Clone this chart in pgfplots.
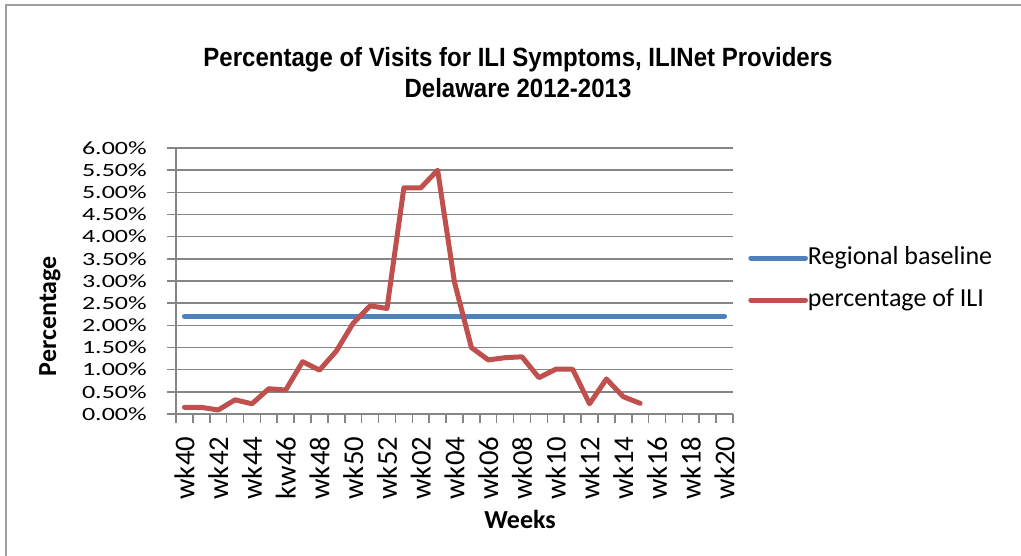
\documentclass[border=0pt]{standalone}
\usepackage{fontspec}
\setmainfont{Carlito}
\newfontfamily\titlefont{Liberation Sans}
\usepackage{graphicx}
\usepackage{pgfplots}
\pgfplotsset{compat=1.18}
\definecolor{ilired}{HTML}{C0504D}
\definecolor{baseblue}{HTML}{4F81BD}
\definecolor{gridgray}{HTML}{868686}
\begin{document}
\begin{tikzpicture}
\path[use as bounding box] (0pt,0pt) rectangle (765.75pt,417pt);
\draw[gridgray!80, line width=1.5] (4.5pt,0pt) -- (4.5pt,413.25pt) -- (765.75pt,413.25pt);
\node[font={\titlefont\bfseries\fontsize{18}{21}\selectfont}] at (388.5pt,372pt) {\scalebox{1}[1.1]{Percentage of Visits for ILI Symptoms, ILINet Providers}};
\node[font={\titlefont\bfseries\fontsize{18}{21}\selectfont}] at (388.5pt,351pt) {\scalebox{1}[1.1]{Delaware 2012-2013}};
\begin{axis}[
  at={(132pt,106.5pt)}, anchor=south west,
  scale only axis, width=417.75pt, height=199.5pt,
  xmin=-0.5, xmax=32.5, ymin=0, ymax=6,
  axis x line*=bottom, axis y line*=left,
  axis line style={gridgray, line width=1.2pt, -},
  font=\fontsize{19.5}{23.4}\selectfont,
  /pgf/number format/assume math mode=true,
  ytick={0,0.5,...,6},
  yticklabel={\scalebox{1}[0.72]{\pgfmathprintnumber[fixed,fixed zerofill,precision=2]{\tick}\%}},
  yticklabel style={anchor=east, inner sep=0pt, xshift=-15pt},
  ymajorgrids, grid style={gridgray, line width=1.2pt},
  xtick={0,2,...,32},
  xticklabels={wk40,wk42,wk44,kw46,wk48,wk50,wk52,wk02,wk04,wk06,wk08,wk10,wk12,wk14,wk16,wk18,wk20},
  xticklabel style={rotate=90, anchor=east, inner sep=0pt, xshift=-10.25pt, font=\fontsize{21.5}{25}\selectfont},
  minor xtick={-0.5,0.5,...,32.5},
  tick align=outside,
  major tick length=6.75pt, minor tick length=6.75pt,
  x tick style={draw=none},
  minor x tick style={draw=gridgray, line width=1.2pt},
  y tick style={gridgray, line width=1.2pt},
  xlabel={\bfseries Weeks}, ylabel={\bfseries Percentage},
  xlabel style={at={(axis description cs:0.6176,-0.3947)}, anchor=center},
  ylabel style={at={(axis description cs:-0.2262,0.368)}, anchor=center, rotate=0},
  legend style={draw=none, fill=none, at={(axis description cs:1.027,0.5075)}, anchor=west, inner sep=0pt, row sep=13.5pt,
    nodes={inner sep=0pt, text height=13.5pt, text depth=4.5pt, anchor=west}},
  legend cell align=left,
  legend image code/.code={\draw[#1, line width=3.75pt, line cap=round] (0pt,0pt) -- (41pt,0pt);},
  clip=false,
]
\addplot[baseblue, line width=3.75pt, line cap=round, line join=round] coordinates {
(0,2.2) (1,2.2) (2,2.2) (3,2.2) (4,2.2) (5,2.2) (6,2.2) (7,2.2) (8,2.2) (9,2.2) (10,2.2)
(11,2.2) (12,2.2) (13,2.2) (14,2.2) (15,2.2) (16,2.2) (17,2.2) (18,2.2) (19,2.2) (20,2.2)
(21,2.2) (22,2.2) (23,2.2) (24,2.2) (25,2.2) (26,2.2) (27,2.2) (28,2.2) (29,2.2) (30,2.2)
(31,2.2) (32,2.2)};
\addlegendentry{Regional baseline}
\addplot[ilired, line width=3.75pt, line cap=round, line join=round] coordinates {
(0,0.15) (1,0.15) (2,0.09) (3,0.32) (4,0.23) (5,0.57) (6,0.54) (7,1.18) (8,0.99) (9,1.42)
(10,2.05) (11,2.44) (12,2.38) (13,5.10) (14,5.10) (15,5.50) (16,2.97) (17,1.50) (18,1.22)
(19,1.27) (20,1.29) (21,0.82) (22,1.01) (23,1.01) (24,0.23) (25,0.79) (26,0.39) (27,0.24)};
\addlegendentry{percentage of ILI}
\end{axis}
\end{tikzpicture}
\end{document}
